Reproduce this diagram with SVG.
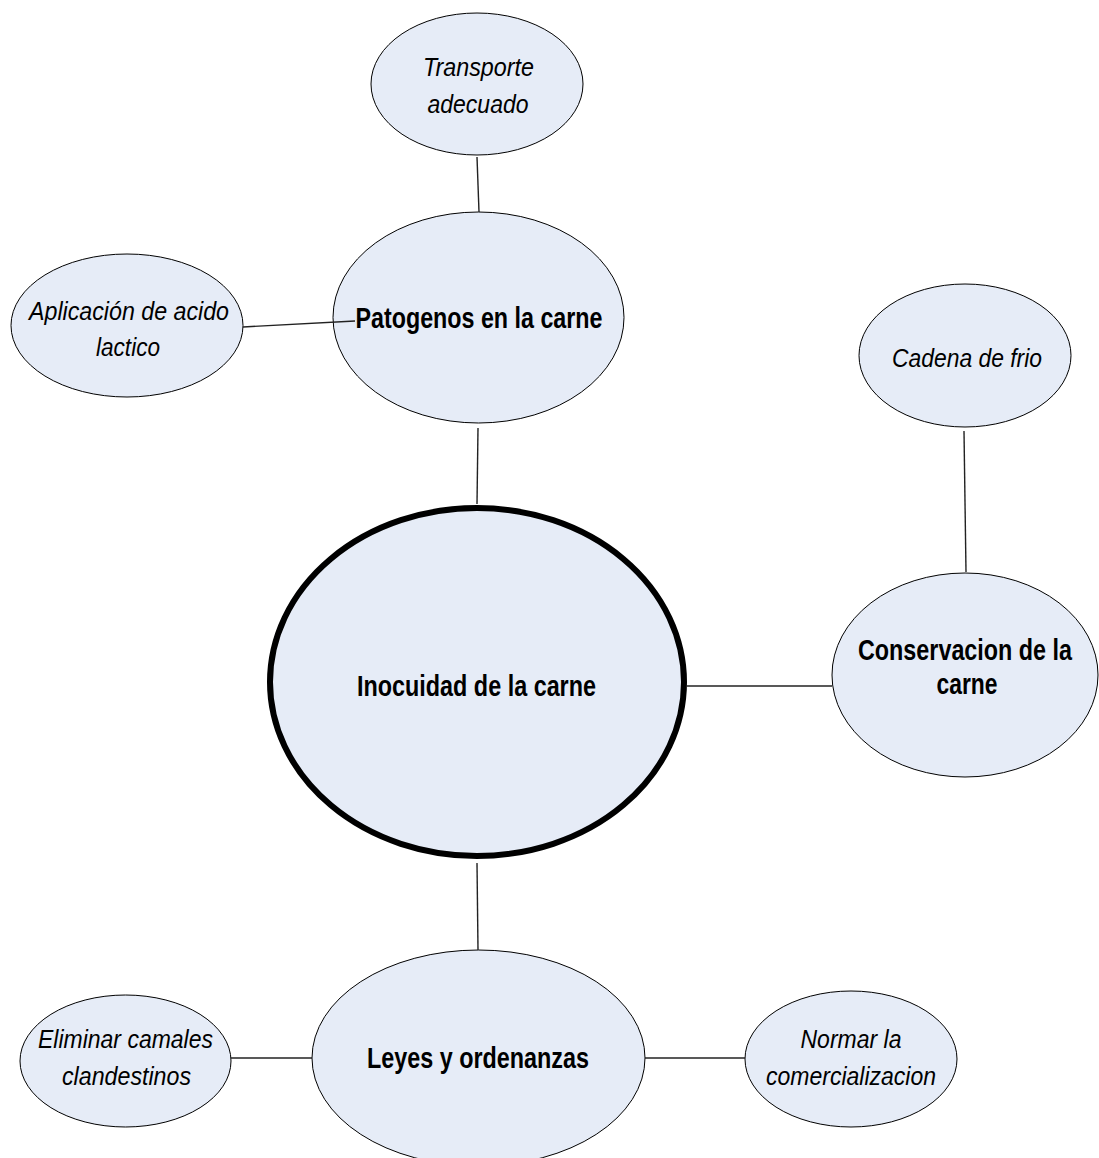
<svg xmlns="http://www.w3.org/2000/svg" width="1099" height="1158" viewBox="0 0 1099 1158">
<style>
.node{fill:#e6ecf7;stroke:#000;stroke-width:1}
.main{fill:#e6ecf7;stroke:#000;stroke-width:6}
.it{font-family:"Liberation Sans",Arial,sans-serif;font-style:italic;font-size:26px;fill:#000;text-anchor:middle}
.bd{font-family:"Liberation Sans",Arial,sans-serif;font-weight:bold;font-size:29px;fill:#000;text-anchor:middle}
.conn line{stroke:#222;stroke-width:1.4}
</style>
<rect width="1099" height="1158" fill="#fff"/>
<g id="n-transporte">
<ellipse class="node" cx="477" cy="84" rx="106" ry="71"/>
<text class="it" x="478.5" y="76" textLength="111" lengthAdjust="spacingAndGlyphs">Transporte</text>
<text class="it" x="478" y="113" textLength="101" lengthAdjust="spacingAndGlyphs">adecuado</text>
</g>
<g id="n-aplicacion">
<ellipse class="node" cx="127" cy="325.5" rx="116" ry="71.5"/>
<text class="it" x="129" y="320" textLength="200" lengthAdjust="spacingAndGlyphs">Aplicación de acido</text>
<text class="it" x="128" y="356" textLength="64" lengthAdjust="spacingAndGlyphs">lactico</text>
</g>
<g id="n-patogenos">
<ellipse class="node" cx="478.5" cy="317.5" rx="145.5" ry="105.5"/>
<text class="bd" x="479" y="328" textLength="247" lengthAdjust="spacingAndGlyphs">Patogenos en la carne</text>
</g>
<g id="n-cadena">
<ellipse class="node" cx="965" cy="355.5" rx="106" ry="71.5"/>
<text class="it" x="967" y="367" textLength="150" lengthAdjust="spacingAndGlyphs">Cadena de frio</text>
</g>
<g id="n-inocuidad">
<ellipse class="main" cx="477" cy="682" rx="207" ry="174"/>
<text class="bd" x="476.5" y="696" textLength="239" lengthAdjust="spacingAndGlyphs">Inocuidad de la carne</text>
</g>
<g id="n-conservacion">
<ellipse class="node" cx="965" cy="675" rx="133" ry="102"/>
<text class="bd" x="965" y="660" textLength="214" lengthAdjust="spacingAndGlyphs">Conservacion de la</text>
<text class="bd" x="967" y="694" textLength="61" lengthAdjust="spacingAndGlyphs">carne</text>
</g>
<g id="n-leyes">
<ellipse class="node" cx="478.5" cy="1058" rx="166.5" ry="108"/>
<text class="bd" x="478" y="1068" textLength="222" lengthAdjust="spacingAndGlyphs">Leyes y ordenanzas</text>
</g>
<g id="n-eliminar">
<ellipse class="node" cx="125.5" cy="1061" rx="105.5" ry="66"/>
<text class="it" x="125.5" y="1048" textLength="175" lengthAdjust="spacingAndGlyphs">Eliminar camales</text>
<text class="it" x="126.5" y="1085" textLength="129" lengthAdjust="spacingAndGlyphs">clandestinos</text>
</g>
<g id="n-normar">
<ellipse class="node" cx="851" cy="1059" rx="106" ry="68"/>
<text class="it" x="851" y="1048" textLength="101" lengthAdjust="spacingAndGlyphs">Normar la</text>
<text class="it" x="851" y="1085" textLength="170" lengthAdjust="spacingAndGlyphs">comercializacion</text>
</g>
<g id="connectors" class="conn">
<line x1="477" y1="157" x2="479" y2="212"/>
<line x1="243" y1="327" x2="355" y2="321"/>
<line x1="478" y1="428" x2="477" y2="504"/>
<line x1="964" y1="431" x2="966" y2="572"/>
<line x1="687" y1="686" x2="832" y2="686"/>
<line x1="477" y1="863" x2="478" y2="950"/>
<line x1="231" y1="1058" x2="312" y2="1058"/>
<line x1="645" y1="1058" x2="745" y2="1058"/>
</g>
</svg>
